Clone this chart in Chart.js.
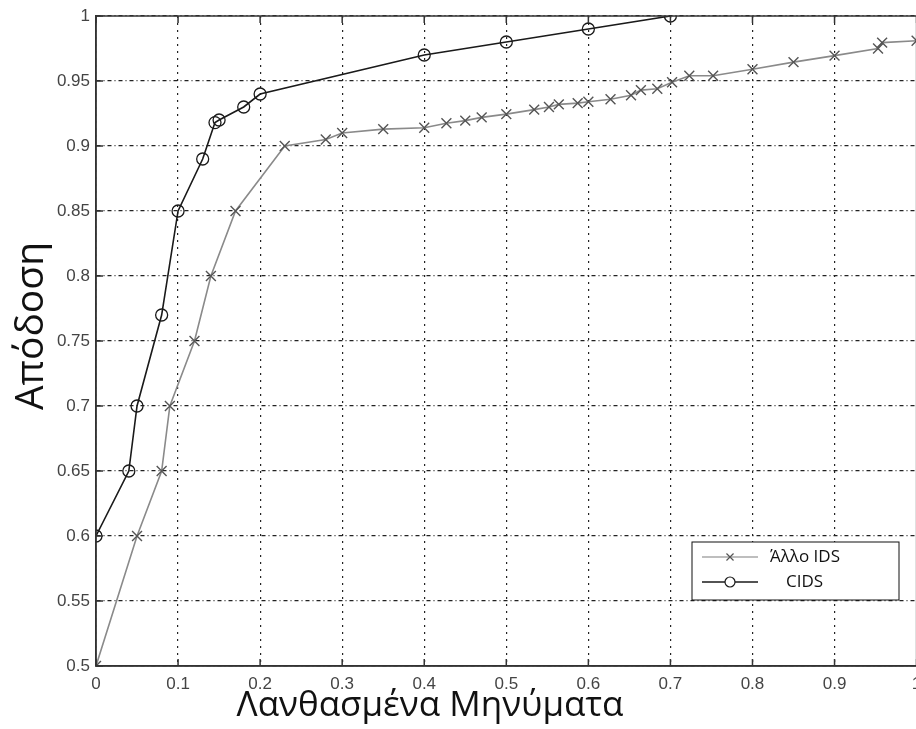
<!DOCTYPE html>
<html>
<head>
<meta charset="utf-8">
<script src="https://cdn.jsdelivr.net/npm/chart.js@4.4.1/dist/chart.umd.min.js"></script>
<style>
  html, body { margin: 0; padding: 0; background: #fff; overflow: hidden; }
  #wrap { width: 925px; height: 729px; }
</style>
</head>
<body>
<div id="wrap"><canvas id="chart" width="925" height="729"></canvas></div>
<script>
// data
const otherX = [0, 0.05, 0.08, 0.09, 0.12, 0.14, 0.17, 0.23, 0.28, 0.30, 0.35, 0.40, 0.427, 0.45, 0.47, 0.50,
  0.534, 0.552, 0.564, 0.587, 0.60, 0.627, 0.652, 0.664, 0.684, 0.702, 0.723, 0.752, 0.80, 0.85, 0.90, 0.953, 0.958, 1.0];
const otherY = [0.5, 0.6, 0.65, 0.7, 0.75, 0.8, 0.85, 0.9, 0.905, 0.91, 0.913, 0.914, 0.9175, 0.9195, 0.922, 0.9245,
  0.928, 0.930, 0.932, 0.933, 0.934, 0.936, 0.939, 0.943, 0.944, 0.949, 0.954, 0.954, 0.959, 0.9645, 0.9695, 0.975, 0.9795, 0.981];
const cidsX = [0, 0.04, 0.05, 0.08, 0.10, 0.13, 0.145, 0.15, 0.18, 0.20, 0.40, 0.50, 0.60, 0.70];
const cidsY = [0.6, 0.65, 0.7, 0.77, 0.85, 0.89, 0.918, 0.92, 0.93, 0.94, 0.97, 0.98, 0.99, 1.0];

const xTicks = [0, 0.1, 0.2, 0.3, 0.4, 0.5, 0.6, 0.7, 0.8, 0.9, 1];
const yTicks = [0.5, 0.55, 0.6, 0.65, 0.7, 0.75, 0.8, 0.85, 0.9, 0.95, 1];
const seriesLabels = ['Άλλο IDS', 'CIDS'];
const xTitle = 'Λανθασμένα Μηνύματα';
const yTitle = 'Απόδοση';

const toPoints = (xs, ys) => xs.map((x, i) => ({ x: x, y: ys[i] }));
const tickText = (v) => String(+Number(v).toFixed(2));

// box around the plot, inward ticks, axis titles and legend inside the plot
const matlabLook = {
    id: 'matlabLook',
    afterDraw(chart) {
        const { ctx, chartArea: a, scales } = chart;
        ctx.save();
        ctx.strokeStyle = '#333';
        ctx.lineWidth = 1.5;
        ctx.strokeRect(a.left, a.top, a.right - a.left, a.bottom - a.top);

        ctx.beginPath();
        scales.x.ticks.forEach((t) => {
            const px = scales.x.getPixelForValue(t.value);
            ctx.moveTo(px, a.bottom); ctx.lineTo(px, a.bottom - 7);
            ctx.moveTo(px, a.top); ctx.lineTo(px, a.top + 7);
        });
        scales.y.ticks.forEach((t) => {
            const py = scales.y.getPixelForValue(t.value);
            ctx.moveTo(a.left, py); ctx.lineTo(a.left + 7, py);
        });
        ctx.stroke();

        // axis titles
        ctx.fillStyle = '#111';
        ctx.textAlign = 'center';
        ctx.textBaseline = 'alphabetic';
        ctx.font = '35px "Open Sans"';
        ctx.fillText(xTitle, 430, 716);
        ctx.save();
        ctx.translate(43, 326);
        ctx.rotate(-Math.PI / 2);
        ctx.font = '39px "Open Sans"';
        ctx.fillText(yTitle, 0, 0);
        ctx.restore();

        // legend
        const box = { x: 692, y: 542, w: 207, h: 58 };
        ctx.fillStyle = '#fff';
        ctx.fillRect(box.x, box.y, box.w, box.h);
        ctx.strokeStyle = '#111';
        ctx.lineWidth = 1;
        ctx.strokeRect(box.x, box.y, box.w, box.h);
        const textX = [770, 786];
        const lineColors = ['#a8a8a8', '#1a1a1a'];
        ctx.textBaseline = 'middle';
        chart.data.datasets.forEach((ds, i) => {
            const y = box.y + 15 + i * 25;
            ctx.strokeStyle = lineColors[i];
            ctx.lineWidth = 1.6;
            ctx.beginPath();
            ctx.moveTo(702, y); ctx.lineTo(758, y);
            ctx.stroke();
            ctx.strokeStyle = ds.pointBorderColor;
            ctx.fillStyle = '#fff';
            ctx.lineWidth = 1.2;
            Chart.helpers.drawPoint(ctx, { pointStyle: ds.pointStyle, radius: 5, rotation: 0, borderWidth: 1.2 }, 730, y);
            ctx.fillStyle = '#111';
            ctx.textAlign = 'left';
            ctx.font = '17px "Open Sans"';
            ctx.fillText(ds.label, textX[i], y);
        });
        ctx.restore();
    }
};

new Chart(document.getElementById('chart'), {
    type: 'scatter',
    plugins: [matlabLook],
    data: {
        datasets: [
            {
                label: seriesLabels[0],
                data: toPoints(otherX, otherY),
                showLine: true,
                borderColor: '#8a8a8a',
                borderWidth: 1.6,
                pointStyle: 'crossRot',
                pointRadius: 7,
                pointBorderColor: '#555',
                pointBorderWidth: 1.4,
                pointBackgroundColor: 'transparent',
            },
            {
                label: seriesLabels[1],
                data: toPoints(cidsX, cidsY),
                showLine: true,
                borderColor: '#1a1a1a',
                borderWidth: 1.6,
                pointStyle: 'circle',
                pointRadius: 6,
                pointBorderColor: '#1a1a1a',
                pointBorderWidth: 1.3,
                pointBackgroundColor: 'transparent',
            },
        ],
    },
    options: {
        responsive: false,
        animation: false,
        events: [],
        layout: { padding: { top: 16, right: 6, left: 0, bottom: 0 } },
        plugins: { legend: { display: false }, tooltip: { enabled: false } },
        scales: {
            x: {
                type: 'linear',
                min: 0,
                max: 1,
                afterBuildTicks: (s) => { s.ticks = xTicks.map((v) => ({ value: v })); },
                afterFit: (s) => { s.height = 63; s.paddingLeft = 0; s.paddingRight = 0; },
                ticks: { color: '#444', font: { family: 'Liberation Sans', size: 17 }, padding: 8, maxRotation: 0, autoSkip: false, callback: tickText },
                grid: { color: '#222', lineWidth: 1.2, drawTicks: false },
                border: { display: true, color: '#333', width: 1.5, dash: [2, 5] },
            },
            y: {
                type: 'linear',
                min: 0.5,
                max: 1,
                afterBuildTicks: (s) => { s.ticks = yTicks.map((v) => ({ value: v })); },
                afterFit: (s) => { s.width = 96; s.paddingTop = 0; s.paddingBottom = 0; },
                ticks: { color: '#444', font: { family: 'Liberation Sans', size: 17 }, padding: 6, autoSkip: false, callback: tickText },
                grid: { color: '#222', lineWidth: 1.2, drawTicks: false },
                border: { display: true, color: '#333', width: 1.5, dash: [4, 3, 1, 3] },
            },
        },
    },
});
</script>
</body>
</html>
